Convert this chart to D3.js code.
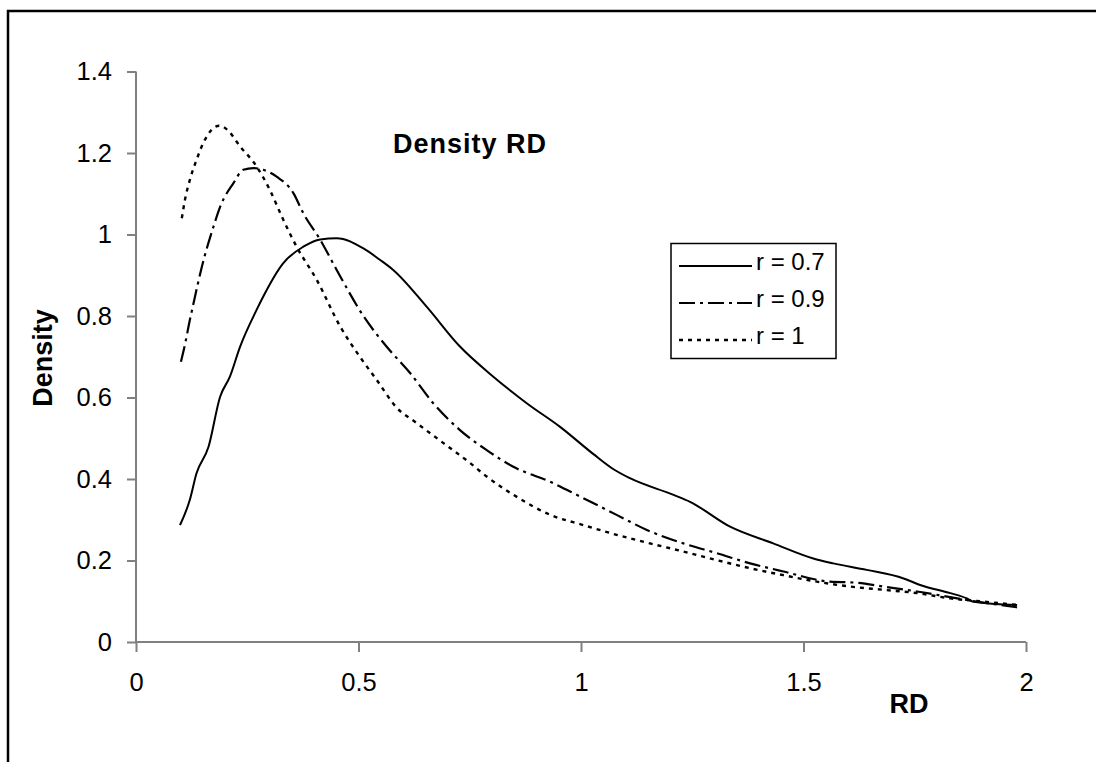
<!DOCTYPE html>
<html>
<head>
<meta charset="UTF-8">
<script src="https://d3js.org/d3.v7.min.js"></script>
<style>
  body { margin: 0; background: #fff; font-family: Arial, "Liberation Sans", sans-serif; }
  svg text { font-family: Arial, "Liberation Sans", sans-serif; }
</style>
</head>
<body>
<svg id="chart" width="1096" height="762"></svg>
<script>
// values
const rd07 = [0.099, 0.121, 0.136, 0.163, 0.189, 0.211, 0.234, 0.271, 0.286, 0.331, 0.376, 0.414, 0.451, 0.511, 0.548, 0.578, 0.653, 0.728, 0.803, 0.878, 0.953, 1.028, 1.073, 1.110, 1.208, 1.245, 1.335, 1.432, 1.522, 1.567, 1.642, 1.725, 1.762, 1.830, 1.867, 1.882, 1.980];
const dens07 = [0.287, 0.349, 0.414, 0.479, 0.602, 0.651, 0.725, 0.815, 0.848, 0.930, 0.970, 0.988, 0.991, 0.966, 0.938, 0.913, 0.823, 0.725, 0.651, 0.586, 0.528, 0.461, 0.424, 0.402, 0.361, 0.344, 0.283, 0.242, 0.205, 0.193, 0.177, 0.156, 0.140, 0.120, 0.107, 0.099, 0.091];

const rd09 = [0.101, 0.110, 0.121, 0.129, 0.148, 0.174, 0.189, 0.219, 0.241, 0.264, 0.286, 0.316, 0.354, 0.376, 0.414, 0.451, 0.511, 0.563, 0.616, 0.668, 0.728, 0.788, 0.848, 0.931, 0.998, 1.080, 1.148, 1.230, 1.305, 1.380, 1.455, 1.560, 1.612, 1.680, 1.755, 1.867, 1.980];
const dens09 = [0.688, 0.730, 0.790, 0.830, 0.921, 1.019, 1.068, 1.126, 1.159, 1.163, 1.159, 1.142, 1.101, 1.052, 0.987, 0.913, 0.800, 0.725, 0.660, 0.586, 0.520, 0.471, 0.430, 0.393, 0.357, 0.312, 0.275, 0.242, 0.218, 0.193, 0.173, 0.148, 0.146, 0.136, 0.124, 0.103, 0.085];

const rd10 = [0.103, 0.110, 0.121, 0.136, 0.151, 0.170, 0.187, 0.204, 0.234, 0.271, 0.301, 0.331, 0.361, 0.406, 0.459, 0.503, 0.541, 0.586, 0.631, 0.691, 0.751, 0.788, 0.850, 0.931, 1.005, 1.080, 1.155, 1.230, 1.305, 1.380, 1.455, 1.530, 1.605, 1.680, 1.755, 1.830, 1.905, 1.980];
const dens10 = [1.040, 1.085, 1.134, 1.183, 1.224, 1.257, 1.267, 1.258, 1.216, 1.167, 1.109, 1.036, 0.970, 0.889, 0.774, 0.700, 0.643, 0.575, 0.537, 0.488, 0.439, 0.406, 0.360, 0.312, 0.287, 0.263, 0.242, 0.222, 0.201, 0.181, 0.164, 0.148, 0.136, 0.128, 0.120, 0.107, 0.099, 0.091];

const seriesNames = ["r = 0.7", "r = 0.9", "r = 1"];
const xTicks = [0, 0.5, 1, 1.5, 2];
const yTicks = [0, 0.2, 0.4, 0.6, 0.8, 1, 1.2, 1.4];

const series = [
  { name: seriesNames[0], xs: rd07, ys: dens07, dash: null, width: 2 },
  { name: seriesNames[1], xs: rd09, ys: dens09, dash: "16,5,3,5", width: 2.2 },
  { name: seriesNames[2], xs: rd10, ys: dens10, dash: "4,5", width: 2.4 }
];

const svg = d3.select("#chart");
const plot = { left: 136, right: 1026, top: 71.5, bottom: 642 };

const x = d3.scaleLinear().domain([0, 2]).range([plot.left, plot.right]);
const y = d3.scaleLinear().domain([0, 1.4]).range([plot.bottom, plot.top]);

// outer frame (runs past the right and bottom edges)
svg.append("rect")
  .attr("x", 8).attr("y", 11)
  .attr("width", 1200).attr("height", 900)
  .attr("fill", "none").attr("stroke", "#000").attr("stroke-width", 2.5);

// axes
const xAxis = svg.append("g")
  .attr("transform", `translate(0,${plot.bottom})`)
  .call(d3.axisBottom(x).tickValues(xTicks).tickSize(10).tickPadding(21).tickFormat(d => d));
const yAxis = svg.append("g")
  .attr("transform", `translate(${plot.left},0)`)
  .call(d3.axisLeft(y).tickValues(yTicks).tickSize(9).tickPadding(15).tickFormat(d => d));

[xAxis, yAxis].forEach(g => {
  g.selectAll("path, line").attr("stroke", "#808080").attr("stroke-width", 2);
  g.selectAll("text").attr("fill", "#000").style("font-size", "25.5px");
});
xAxis.select(".domain").attr("d", `M${plot.left},0H${plot.right}`);
yAxis.select(".domain").attr("d", `M0,${plot.top}V${plot.bottom}`);

// curves
const line = d3.line().curve(d3.curveMonotoneX).x(d => x(d[0])).y(d => y(d[1]));
series.forEach(s => {
  svg.append("path")
    .datum(s.xs.map((v, i) => [v, s.ys[i]]))
    .attr("d", line)
    .attr("fill", "none")
    .attr("stroke", "#000")
    .attr("stroke-width", s.width)
    .attr("stroke-dasharray", s.dash);
});

// titles
svg.append("text")
  .attr("x", 470).attr("y", 153)
  .attr("text-anchor", "middle")
  .style("font-size", "27px").style("font-weight", "bold")
  .style("letter-spacing", "1px")
  .text("Density RD");

svg.append("text")
  .attr("transform", "translate(52,358) rotate(-90)")
  .attr("text-anchor", "middle")
  .style("font-size", "27px").style("font-weight", "bold")
  .text("Density");

svg.append("text")
  .attr("x", 909).attr("y", 713)
  .attr("text-anchor", "middle")
  .style("font-size", "27px").style("font-weight", "bold")
  .text("RD");

// legend
const legend = svg.append("g");
legend.append("rect")
  .attr("x", 671).attr("y", 243.5)
  .attr("width", 165).attr("height", 115)
  .attr("fill", "#fff").attr("stroke", "#000").attr("stroke-width", 1.5);

series.forEach((s, i) => {
  const ly = 266 + i * 37;
  legend.append("line")
    .attr("x1", 679).attr("x2", 752)
    .attr("y1", ly).attr("y2", ly)
    .attr("stroke", "#000")
    .attr("stroke-width", s.width)
    .attr("stroke-dasharray", s.dash);
  legend.append("text")
    .attr("x", 756).attr("y", ly + 4)
    .style("font-size", "24px")
    .text(s.name.replace(/ /g, "\u00a0"));
});
</script>
</body>
</html>
